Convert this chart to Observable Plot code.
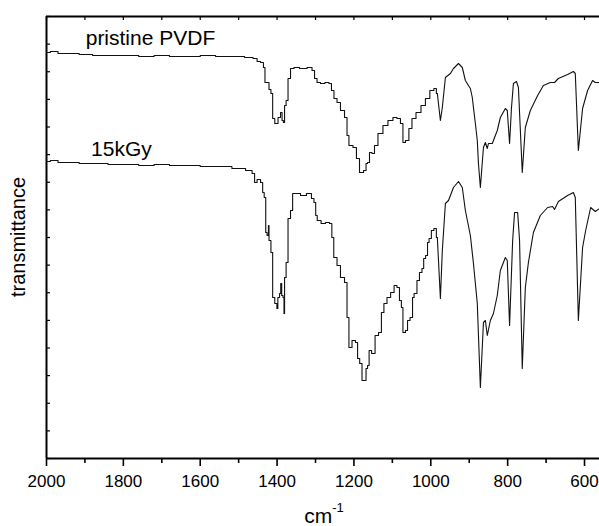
<!DOCTYPE html>
<html>
<head>
<meta charset="utf-8">
<script src="https://cdn.jsdelivr.net/npm/d3@7"></script>
<script src="https://cdn.jsdelivr.net/npm/@observablehq/plot@0.6"></script>
<style>
  html, body { margin: 0; padding: 0; background: #fff; }
</style>
</head>
<body>
<div id="chart"></div>
<script>
// ---- data (wavenumber in cm^-1, transmittance in arbitrary units) ----
const pristineWn = [2000,1980,1960,1930,1900,1860,1820,1780,1740,1700,1660,1620,1580,1540,1500,1469,1456,1448,1438,1433,1430,1422,1420,1412,1411,1401,1394,1388,1386,1381,1380,1373,1370,1360,1352,1331,1313,1305,1300,1292,1282,1269,1261,1256,1248,1240,1230,1219,1217,1209,1196,1191,1180,1170,1167,1162,1157,1149,1144,1131,1118,1105,1092,1084,1074,1071,1061,1053,1045,1032,1019,1009,996,988,983,975,970,962,949,941,928,918,910,902,897,892,889,884,879,876,871,863,858,853,850,840,827,819,806,801,795,790,785,777,772,762,754,741,722,707,689,678,668,644,629,624,616,605,592,579,572,561];
const pristineT  = [406,407,405,405,404,403,403,403,402,403,402,402,403,402,402,401,400,397,396,391,376,376,369,365,340,335,341,346,338,336,353,358,380,390,391,390,391,388,380,376,375,376,375,368,360,356,348,341,323,313,311,300,286,288,295,296,306,305,313,325,333,338,341,340,335,316,318,330,340,346,353,360,368,370,365,338,351,381,385,390,395,391,378,373,370,361,351,335,318,295,271,311,316,310,315,315,328,341,350,348,315,351,375,377,371,286,331,348,363,373,376,376,380,384,387,385,308,350,368,378,376,376];

const irradWn = [2000,1980,1960,1930,1900,1860,1820,1780,1740,1700,1660,1620,1580,1540,1495,1469,1461,1456,1448,1438,1437,1430,1429,1423,1422,1420,1412,1411,1401,1400,1396,1391,1390,1386,1383,1381,1380,1373,1370,1360,1359,1344,1334,1313,1308,1300,1299,1292,1279,1269,1258,1257,1248,1240,1230,1219,1217,1209,1201,1191,1190,1180,1178,1170,1167,1162,1159,1149,1141,1131,1126,1118,1110,1099,1092,1084,1079,1074,1071,1061,1060,1048,1047,1040,1032,1027,1019,1018,1009,1008,1001,996,988,983,975,970,962,954,941,928,918,910,897,889,879,871,863,858,853,845,837,827,819,806,801,795,787,782,774,769,762,754,746,733,715,696,683,678,668,644,629,624,616,605,597,584,572,561];
const irradT  = [297,298,296,296,295,295,294,294,293,294,293,293,292,292,290,288,285,276,279,276,266,261,226,223,233,218,206,161,155,150,161,165,175,163,161,145,181,196,240,248,265,265,263,265,260,256,243,238,235,236,235,221,201,193,181,176,141,111,118,116,100,95,78,78,90,93,108,105,123,126,146,155,161,166,173,171,158,151,126,128,138,141,161,165,178,186,190,200,203,216,220,228,230,221,160,208,255,258,271,277,271,248,223,195,155,71,136,138,123,138,145,163,188,201,198,133,218,246,246,218,90,171,196,226,243,251,252,249,257,263,266,261,138,211,228,251,247,250];

const seriesNames = ["pristine PVDF", "15kGy"];
const labelWn = [1898, 1884];
const labelT  = [414, 303];

// the spectra were recorded coarsely (staircase) above this wavenumber
const stepLimit = 983;

const xMajorTicks = [2000, 1800, 1600, 1400, 1200, 1000, 800, 600];
const xMinorTicks = [1900, 1700, 1500, 1300, 1100, 900, 700];
const yTicks = d3.range(17).map(i => i * 442 / 16);

const xTitle = "cm";
const xTitleSup = "-1";
const yTitle = "transmittance";

// ---- tables ----
const pristine = pristineWn.map((w, i) => ({wn: w, t: pristineT[i]}));
const irrad = irradWn.map((w, i) => ({wn: w, t: irradT[i]}));
const labels = seriesNames.map((s, i) => ({name: s, wn: labelWn[i], t: labelT[i]}));
const hi = d => d.filter(p => p.wn >= stepLimit);
const lo = d => d.filter(p => p.wn <= stepLimit);

const font = "'Liberation Sans', Arial, Helvetica, sans-serif";
const lineOpts = {x: "wn", y: "t", stroke: "#111", strokeWidth: 1.1};

const chart = Plot.plot({
  width: 599,
  height: 526,
  marginLeft: 46,
  marginRight: 0,
  marginTop: 16,
  marginBottom: 68,
  style: {fontFamily: font, background: "#fff", color: "#000"},
  x: {domain: [2000, 561]},
  y: {domain: [0, 442]},
  marks: [
    Plot.axisX({ticks: xMajorTicks, tickSize: 8, tickPadding: 8, fontSize: 17, tickFormat: "d", label: null, strokeWidth: 1.6}),
    Plot.axisX({ticks: xMinorTicks, tickSize: 5, text: null, label: null, strokeWidth: 1.6}),
    Plot.axisX({anchor: "top", ticks: xMajorTicks.concat(xMinorTicks), tickSize: -3, text: null, label: null, strokeWidth: 1.2}),
    Plot.axisY({ticks: yTicks, tickSize: -4, text: null, label: null, strokeWidth: 1.2}),
    Plot.ruleY([0], {strokeWidth: 2}),
    Plot.ruleY([442], {strokeWidth: 2}),
    Plot.ruleX([2000], {strokeWidth: 2}),
    Plot.line(hi(pristine), {...lineOpts, curve: "step"}),
    Plot.line(lo(pristine), lineOpts),
    Plot.line(hi(irrad), {...lineOpts, curve: "step"}),
    Plot.line(lo(irrad), lineOpts),
    Plot.text(labels, {x: "wn", y: "t", text: "name", textAnchor: "start", lineAnchor: "bottom", fontSize: 21, fill: "#000"})
  ]
});

const svg = d3.select(chart);
svg.append("text")
  .attr("x", 324).attr("y", 523)
  .attr("text-anchor", "middle")
  .attr("font-family", font)
  .attr("font-size", 21)
  .attr("fill", "#000")
  .call(t => {
    t.append("tspan").text(xTitle);
    t.append("tspan").attr("font-size", 13).attr("dy", -11).text(xTitleSup);
  });
svg.append("text")
  .attr("transform", "translate(25,237) rotate(-90)")
  .attr("text-anchor", "middle")
  .attr("font-family", font)
  .attr("font-size", 20)
  .attr("fill", "#000")
  .text(yTitle);

document.getElementById("chart").appendChild(chart);
</script>
</body>
</html>
